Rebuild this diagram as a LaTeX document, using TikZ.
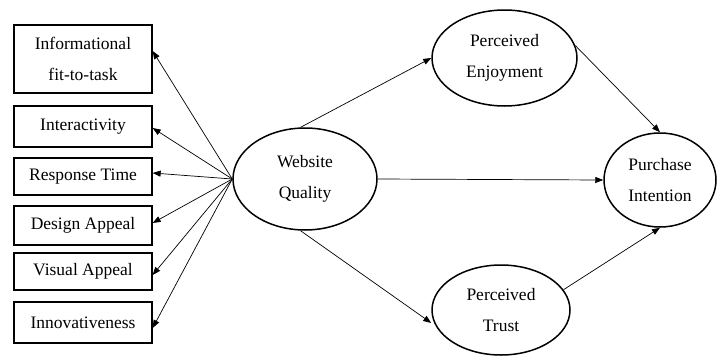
\documentclass[tikz,border=0pt]{standalone}
\usepackage{fontspec}
\setmainfont{Liberation Serif}
\usetikzlibrary{shapes.geometric,arrows.meta}
\begin{document}
\begin{tikzpicture}[x=1pt,y=-1pt,
  every node/.style={font=\fontsize{17.5}{31}\selectfont, align=center, inner sep=0pt},
  box/.style={draw, line width=1.3pt, minimum width=138pt},
  oval/.style={draw, ellipse, line width=1.5pt},
  arr/.style={line width=0.7pt, -{Triangle[length=8pt,width=6pt]}}]
\useasboundingbox (0,0) rectangle (717,356);
% boxes
\node[box, minimum height=68pt] (b1) at (83,59) {Informational\\fit-to-task};
\node[box, minimum height=41pt] (b2) at (83,126.5) {Interactivity};
\node[box, minimum height=37pt] (b3) at (83,176.5) {Response Time};
\node[box, minimum height=39pt] (b4) at (83,225.5) {Design Appeal};
\node[box, minimum height=37pt] (b5) at (83,271.5) {Visual Appeal};
\node[box, minimum height=41pt] (b6) at (83,322.5) {Innovativeness};
% ellipses
\node[oval, minimum width=144pt, minimum height=102pt] (wq) at (305,179) {Website\\Quality};
\node[oval, minimum width=145pt, minimum height=96pt] (pe) at (504.5,58) {Perceived\\Enjoyment};
\node[oval, minimum width=138pt, minimum height=90pt] (pt) at (501,310) {Perceived\\Trust};
\node[oval, minimum width=112pt, minimum height=94pt] (pi) at (660,180) {Purchase\\Intention};
% arrows to boxes
\draw[arr] (wq.west) -- ([yshift=8pt]b1.east);
\draw[arr] (wq.west) -- ([yshift=-1.5pt]b2.east);
\draw[arr] (wq.west) -- ([yshift=3.5pt]b3.east);
\draw[arr] (wq.west) -- ([yshift=2.5pt]b4.east);
\draw[arr] (wq.west) -- ([yshift=-3.5pt]b5.east);
\draw[arr] (wq.west) -- ([yshift=-5.5pt]b6.east);
% structural arrows
\draw[arr] (wq.95) -- (pe.west);
\draw[arr] (wq.east) -- (pi.west);
\draw[arr] (wq.265) -- ([yshift=-13pt]pt.west);
\draw[arr] (pe.10) -- (pi.north);
\draw[arr] (pt.18) -- (pi.south);
\end{tikzpicture}
\end{document}
